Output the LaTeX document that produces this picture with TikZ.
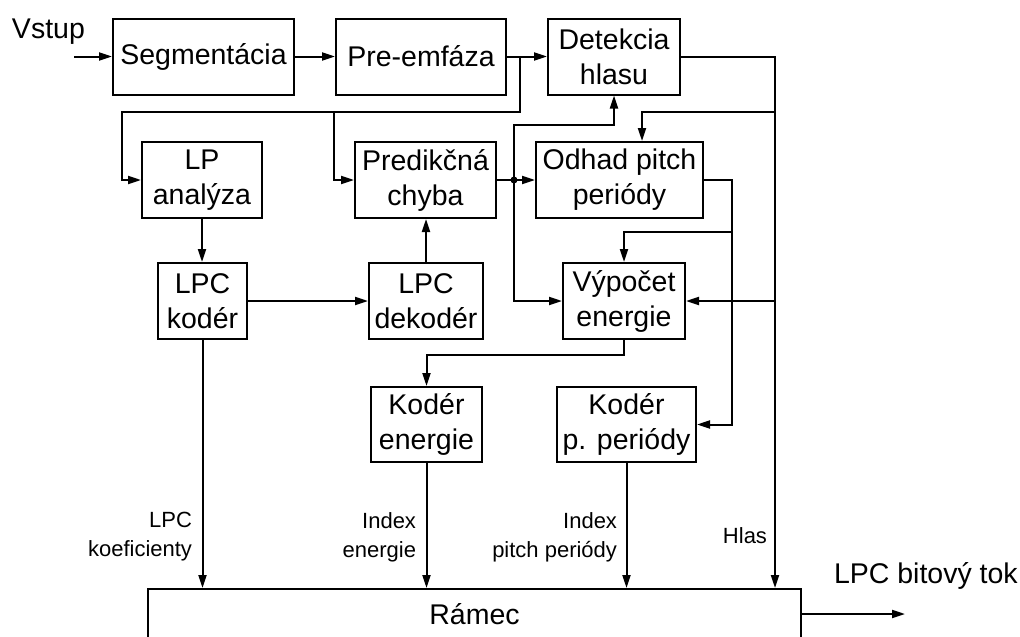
\documentclass[tikz,border=0pt]{standalone}
\usepackage{fontspec}
\setmainfont{Liberation Sans}
\usetikzlibrary{arrows.meta}
\begin{document}
\begin{tikzpicture}[x=1pt,y=-1pt, line width=2pt,
  blk/.style={draw, line width=2pt, inner sep=0pt, align=center, font=\fontsize{28.5}{35}\selectfont, minimum height=76pt},
  arr/.style={-{Triangle[length=13pt,width=8pt]}},
  lbl/.style={align=right, inner sep=0pt, anchor=east, font=\fontsize{22}{29}\selectfont},
  big/.style={font=\fontsize{28.5}{34}\selectfont, inner sep=0pt}]
\useasboundingbox (0,0) rectangle (1020,637);
\clip (0,0) rectangle (1020,637);
% blocks
\node[blk, minimum width=181pt] (seg) at (203.5,56.5) {Segmentácia};
\node[blk, minimum width=170pt] (pre) at (421,56.5) {Pre-emfáza};
\node[blk, minimum width=132pt] (det) at (614,56.5) {Detekcia\\hlasu};
\node[blk, minimum width=120pt] (lpa) at (202,180) {LP\\analýza};
\node[blk, minimum width=141pt] (pred) at (425.5,180) {Predikčná\\chyba};
\node[blk, minimum width=167pt] (odh) at (619.5,180) {Odhad pitch\\periódy};
\node[blk, minimum width=89pt] (lpck) at (202.5,301) {LPC\\kodér};
\node[blk, minimum width=114pt] (lpcd) at (426,301) {LPC\\dekodér};
\node[blk, minimum width=122pt] (vyp) at (624,301) {Výpočet\\energie};
\node[blk, minimum width=111pt, minimum height=75pt] (kode) at (426.5,424.5) {Kodér\\energie};
\node[blk, minimum width=139pt, minimum height=75pt] (kodp) at (626.5,424.5) {Kodér\\p. periódy};
\node[draw, line width=2pt, minimum width=653pt, minimum height=50pt, inner sep=0pt, font=\fontsize{28.5}{34}\selectfont] (ram) at (474.5,614) {Rámec};
% texts
\node[big, anchor=base west] (vstup) at (11,38) {Vstup};
\node[big, anchor=base west] (out) at (833,583) {LPC bitový tok};
\node[lbl] (l1) at (193,537) {LPC\\koeficienty};
\node[lbl] (l2) at (417,537) {Index\\energie};
\node[lbl] (l3) at (618,537) {Index\\pitch periódy};
\node[lbl] (l4) at (768,536) {Hlas};
% coordinates
\coordinate (in) at (74,56.5);
\coordinate (j1) at (520,56.5);
\coordinate (j2) at (334,112);
\coordinate (d1) at (514,180);
\coordinate (hx) at (775,0);
\coordinate (px) at (732,0);
% connectors
\draw[arr] (in) -- (seg.west);
\draw[arr] (seg) -- (pre);
\draw[arr] (pre) -- (det);
\draw[arr] (j1) |- (122,112) |- (lpa.west);
\draw[arr] (j2) |- (pred.west);
\draw[arr] (lpa.south) -- (lpa.south |- lpck.north);
\draw[arr] (lpck) -- (lpcd);
\draw[arr] (lpcd.north) -- (lpcd.north |- pred.south);
\draw[arr] (pred.east) -- (odh.west);
\fill (d1) circle (3.5pt);
\draw[arr] (d1) |- (vyp.west);
\draw[arr] (d1) -- (514,125) -| (det.south);
\draw[arr] (det.east) -| (hx |- ram.north);
\draw[arr] (hx |- 0,112) -| ([xshift=22.5pt]odh.north);
\draw[arr] (hx |- vyp.east) -- (vyp.east);
\draw[arr] (odh.east) -| (px |- 0,300) |- (kodp.east);
\draw[arr] (px |- 0,232) -| (vyp.north);
\draw[arr] (vyp.south) -- (624,355) -| (kode.north);
\draw[arr] (lpck.south) -- (lpck.south |- ram.north);
\draw[arr] (kode.south) -- (kode.south |- ram.north);
\draw[arr] (kodp.south) -- (kodp.south |- ram.north);
\draw[arr] (ram.east) -- (905,614);
\end{tikzpicture}
\end{document}
